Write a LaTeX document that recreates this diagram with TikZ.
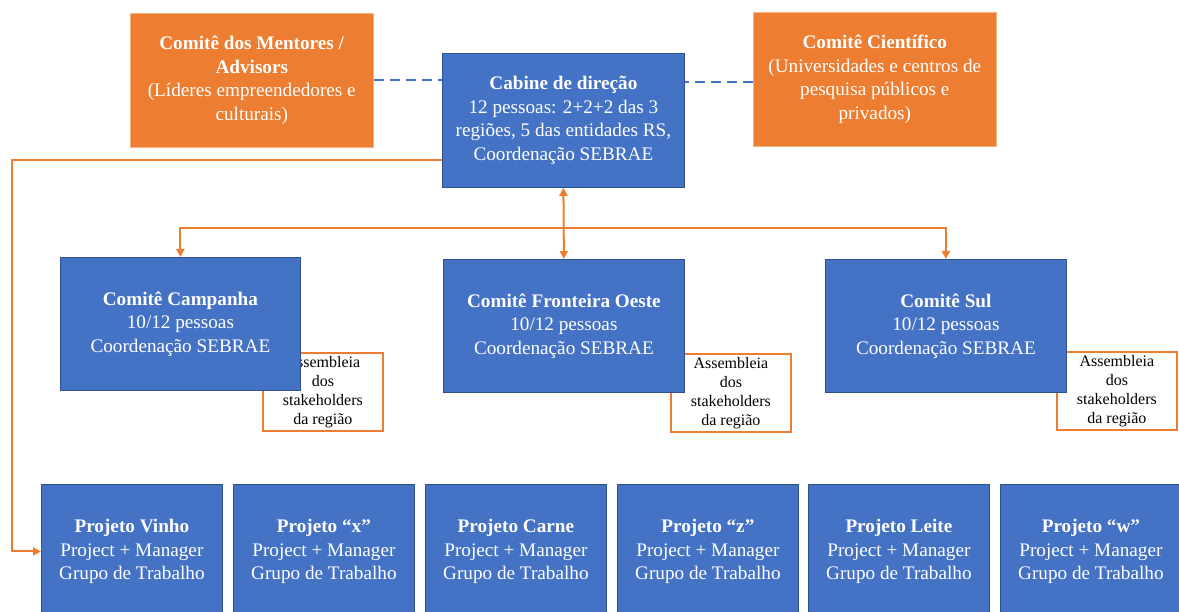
\documentclass[tikz,border=0pt]{standalone}
\usepackage{fontspec}
\setmainfont{Liberation Serif}
\usetikzlibrary{arrows.meta,calc}
\definecolor{boxblue}{HTML}{4472C4}
\definecolor{boxblueline}{HTML}{2F528F}
\definecolor{boxorange}{HTML}{ED7D31}
\definecolor{boxorangeline}{HTML}{F4B183}
\begin{document}
\begin{tikzpicture}[x=1pt,y=-1pt,
  bluebox/.style={draw=boxblueline, line width=0.8pt, fill=boxblue, text=white,
    align=center, font=\fontsize{19.2}{23.5}\selectfont, inner sep=0pt,
    minimum width=#1, minimum height=133pt, anchor=north west},
  bluebox/.default=241pt,
  orangebox/.style={draw=boxorangeline, line width=0.6pt, fill=boxorange, text=white,
    align=center, font=\fontsize{19.2}{23.5}\selectfont, inner sep=0pt,
    minimum width=243pt, minimum height=134pt, anchor=north west},
  assembox/.style={draw=boxorange, line width=1.8pt, fill=white, text=black,
    align=center, font=\fontsize{16}{19}\selectfont, inner sep=0pt,
    minimum width=120pt, minimum height=78pt, anchor=north west},
  oline/.style={draw=boxorange, line width=2pt},
  oarrow/.style={oline, -{Triangle[width=8pt,length=8pt]}},
  obiarrow/.style={oline, {Triangle[width=8pt,length=8pt]}-{Triangle[width=8pt,length=8pt]}},
  dline/.style={draw=boxblue, line width=1.8pt, dash pattern=on 10pt off 6pt}
]
\useasboundingbox (0,0) rectangle (1179,612);

% top row
\node[orangebox] (mentores) at (130,13)
  {\textbf{Comitê dos Mentores /}\\\textbf{Advisors}\\(Líderes empreendedores e\\culturais)};
\node[bluebox=242pt, minimum height=134pt] (cabine) at (442,53)
  {\textbf{Cabine de direção}\\12 pessoas: 2+2+2 das 3\\regiões, 5 das entidades RS,\\Coordenação SEBRAE};
\node[orangebox] (cientifico) at (753,12)
  {\textbf{Comitê Científico}\\(Universidades e centros de\\pesquisa públicos e\\privados)};

% regional assemblies (behind the committees)
\node[assembox] (asCamp) at (262,352) {Assembleia\\dos\\stakeholders\\da região};
\node[assembox] (asFront) at (670,353) {Assembleia\\dos\\stakeholders\\da região};
\node[assembox] (asSul) at (1056,351) {Assembleia\\dos\\stakeholders\\da região};

% regional committees
\node[bluebox=240pt] (campanha) at (60,257)
  {\textbf{Comitê Campanha}\\10/12 pessoas\\Coordenação SEBRAE};
\node[bluebox] (fronteira) at (443,259)
  {\textbf{Comitê Fronteira Oeste}\\10/12 pessoas\\Coordenação SEBRAE};
\node[bluebox] (sul) at (825,259)
  {\textbf{Comitê Sul}\\10/12 pessoas\\Coordenação SEBRAE};

% projects
\node[bluebox=181pt, minimum height=134pt] (vinho) at (41,484)
  {\textbf{Projeto Vinho}\\Project + Manager\\Grupo de Trabalho};
\node[bluebox=181pt, minimum height=134pt] (px) at (233,484)
  {\textbf{Projeto “x”}\\Project + Manager\\Grupo de Trabalho};
\node[bluebox=181pt, minimum height=134pt] (carne) at (425,484)
  {\textbf{Projeto Carne}\\Project + Manager\\Grupo de Trabalho};
\node[bluebox=181pt, minimum height=134pt] (pz) at (617,484)
  {\textbf{Projeto “z”}\\Project + Manager\\Grupo de Trabalho};
\node[bluebox=181pt, minimum height=134pt] (leite) at (808,484)
  {\textbf{Projeto Leite}\\Project + Manager\\Grupo de Trabalho};
\node[bluebox=181pt, minimum height=134pt] (pw) at (1000,484)
  {\textbf{Projeto “w”}\\Project + Manager\\Grupo de Trabalho};

% dashed links to the advisory committees
\draw[dline] (mentores.east) -- (mentores.east -| cabine.west);
\draw[dline] ([yshift=-3pt]cientifico.west) -- ([yshift=-3pt]cientifico.west -| cabine.east);

% links to the regional committees
\coordinate (hub) at (563.5,228);
\coordinate (leftrail) at (12,300);
\draw[obiarrow] (cabine.south) -- (fronteira.north);
\draw[oarrow] (hub) -| (campanha.north);
\draw[oarrow] (hub) -| (sul.north);

% link to the projects
\draw[oarrow] ([yshift=-40pt]cabine.west) -| (leftrail) |- (vinho.west);
\end{tikzpicture}
\end{document}
